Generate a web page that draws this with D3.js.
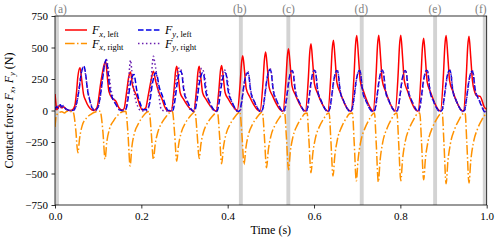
<!DOCTYPE html>
<html><head><meta charset="utf-8">
<script src="https://cdn.jsdelivr.net/npm/d3@7"></script>
<style>body{margin:0;background:#fff}svg{display:block}</style>
</head><body>
<svg id="chart" width="498" height="241"></svg>
<script>
// ---------- data ----------
const xTicks = [0.0, 0.2, 0.4, 0.6, 0.8, 1.0];
const yTicks = [-750, -500, -250, 0, 250, 500, 750];
const bandStarts = [0.0, 0.426, 0.536, 0.706, 0.876, 0.991];
const bandWidth = 0.009;
const bandLabels = ["(a)", "(b)", "(c)", "(d)", "(e)", "(f)"];
const bandLabelPos = [0.0127, 0.428, 0.541, 0.7096, 0.880, 0.9864];

// Fx,left  [time (s), force (N)]
const fxLeft = [
[0,130],[0.002,60],[0.004,5],[0.008,25],[0.012,40],[0.016,20],[0.020,30],[0.026,10],[0.032,0],[0.040,5],
[0.046,40],[0.050,150],[0.053,270],[0.058,340],[0.062,240],[0.066,130],[0.071,80],[0.078,30],[0.085,5],[0.090,0],
[0.097,20],[0.106,220],[0.1135,360],[0.1175,388],[0.121,275],[0.125,150],[0.133,95],[0.141,75],[0.148,22],[0.155,3],
[0.160,15],[0.166,150],[0.171,270],[0.175,305],[0.179,210],[0.183,165],[0.191,100],[0.197,35],[0.202,5],
[0.210,20],[0.216,120],[0.222,230],[0.228,312],[0.233,235],[0.241,140],[0.248,90],[0.254,30],[0.260,0],
[0.269,-5],[0.276,176],[0.279,303],[0.282,352],[0.286,253],[0.290,141],[0.298,88],[0.307,39],[0.315,7],
[0.321,-5],[0.328,176],[0.331,303],[0.334,352],[0.338,253],[0.342,141],[0.350,88],[0.359,39],[0.367,7],
[0.373,-5],[0.380,179],[0.383,307],[0.386,357],[0.390,257],[0.394,143],[0.402,89],[0.411,39],[0.419,7],
[0.422,-5],[0.429,218],[0.432,374],[0.435,435],[0.439,313],[0.443,174],[0.451,109],[0.460,48],[0.468,9],
[0.475,-5],[0.482,233],[0.485,400],[0.488,465],[0.492,335],[0.496,186],[0.504,116],[0.513,51],[0.521,9],
[0.528,-5],[0.535,245],[0.538,421],[0.541,490],[0.545,353],[0.549,196],[0.557,123],[0.566,54],[0.574,10],
[0.580,-5],[0.587,265],[0.590,455],[0.593,529],[0.597,381],[0.601,212],[0.609,132],[0.618,58],[0.626,11],
[0.632,-5],[0.639,279],[0.642,480],[0.645,558],[0.649,402],[0.653,223],[0.661,140],[0.670,61],[0.678,11],
[0.686,-5],[0.693,298],[0.696,512],[0.699,595],[0.703,428],[0.707,238],[0.715,149],[0.724,65],[0.732,12],
[0.737,-5],[0.744,299],[0.747,514],[0.750,598],[0.754,431],[0.758,239],[0.766,150],[0.775,66],[0.783,12],
[0.788,-5],[0.795,299],[0.798,514],[0.801,598],[0.805,431],[0.809,239],[0.817,150],[0.826,66],[0.834,12],
[0.841,-5],[0.848,287],[0.851,494],[0.854,574],[0.858,413],[0.862,230],[0.870,144],[0.879,63],[0.887,11],
[0.893,-5],[0.900,298],[0.903,512],[0.906,595],[0.910,428],[0.914,238],[0.922,149],[0.931,65],[0.939,12],
[0.946,-5],[0.953,295],[0.956,507],[0.959,590],[0.963,425],[0.967,236],[0.972,150],[0.976,118],[0.985,112],[0.990,70],[0.994,30],[1.0,10]
];

// Fx,right
const fxRight = [
[0,-130],[0.002,-60],[0.005,-30],[0.010,-15],[0.016,-10],[0.022,-20],[0.028,-5],[0.034,-10],[0.040,-5],
[0.043,-20],[0.048,-150],[0.053,-336],[0.057,-220],[0.063,-120],[0.073,-60],[0.083,-30],[0.095,-10],[0.104,-5],
[0.106,-20],[0.111,-170],[0.116,-385],[0.120,-250],[0.126,-150],[0.136,-80],[0.146,-35],[0.156,-10],[0.164,-5],
[0.165,-20],[0.169,-180],[0.174,-440],[0.178,-290],[0.184,-180],[0.194,-100],[0.204,-45],[0.212,-15],[0.218,-8],
[0.219,-20],[0.223,-175],[0.228,-389],[0.232,-270],[0.238,-175],[0.248,-95],[0.258,-45],[0.266,-15],[0.272,-8],
[0.273,-20],[0.277,-180],[0.282,-402],[0.286,-281],[0.292,-181],[0.302,-100],[0.312,-50],[0.320,-20],[0.324,-10],
[0.325,-20],[0.329,-171],[0.334,-381],[0.338,-267],[0.344,-171],[0.354,-95],[0.364,-48],[0.372,-19],[0.376,-10],
[0.377,-20],[0.381,-190],[0.386,-423],[0.390,-296],[0.396,-190],[0.406,-106],[0.416,-53],[0.424,-21],[0.428,-10],
[0.429,-20],[0.433,-193],[0.438,-429],[0.442,-300],[0.448,-193],[0.458,-107],[0.468,-54],[0.476,-21],[0.480,-10],
[0.481,-20],[0.485,-205],[0.490,-455],[0.494,-318],[0.500,-205],[0.510,-114],[0.520,-57],[0.528,-23],
[0.532,-20],[0.536,-212],[0.541,-470],[0.545,-329],[0.551,-212],[0.561,-118],[0.571,-59],[0.579,-24],
[0.584,-20],[0.588,-223],[0.593,-495],[0.597,-347],[0.603,-223],[0.613,-124],[0.623,-62],[0.631,-25],
[0.635,-20],[0.639,-234],[0.644,-520],[0.648,-364],[0.654,-234],[0.664,-130],[0.674,-65],[0.682,-26],
[0.689,-20],[0.693,-251],[0.698,-558],[0.702,-391],[0.708,-251],[0.718,-140],[0.728,-70],[0.736,-28],
[0.740,-20],[0.744,-255],[0.749,-567],[0.753,-397],[0.759,-255],[0.769,-142],[0.779,-71],[0.787,-28],
[0.792,-20],[0.796,-251],[0.801,-558],[0.805,-391],[0.811,-251],[0.821,-140],[0.831,-70],[0.839,-28],
[0.845,-20],[0.849,-248],[0.854,-550],[0.858,-385],[0.864,-248],[0.874,-138],[0.884,-69],[0.892,-28],
[0.897,-20],[0.901,-262],[0.906,-582],[0.910,-407],[0.916,-262],[0.926,-146],[0.936,-73],[0.944,-29],
[0.950,-20],[0.954,-259],[0.959,-575],[0.963,-403],[0.969,-259],[0.979,-144],[0.989,-72],[0.995,-40],[1.0,-20]
];

// Fy,left
const fyLeft = [
[0,10],[0.004,30],[0.008,20],[0.012,45],[0.016,30],[0.020,40],[0.024,15],[0.030,5],[0.038,0],[0.044,5],
[0.050,60],[0.056,170],[0.061,300],[0.067,350],[0.071,290],[0.075,170],[0.081,75],[0.086,20],[0.092,0],
[0.100,30],[0.105,120],[0.110,246],[0.115,365],[0.119,405],[0.123,300],[0.127,170],[0.133,100],[0.141,48],[0.148,8],[0.155,0],
[0.164,10],[0.170,110],[0.175,220],[0.179,270],[0.183,286],[0.186,240],[0.189,167],[0.197,60],[0.205,5],
[0.212,10],[0.218,40],[0.226,220],[0.233,299],[0.237,270],[0.241,193],[0.249,114],[0.256,40],[0.262,0],
[0.273,0],[0.279,112],[0.283,218],[0.288,296],[0.291,312],[0.294,290],[0.297,193],[0.300,128],[0.305,87],[0.310,47],[0.316,9],[0.321,-8],
[0.324,0],[0.330,108],[0.334,209],[0.339,284],[0.342,299],[0.345,278],[0.348,185],[0.351,123],[0.356,84],[0.361,45],[0.367,9],[0.372,-8],
[0.376,0],[0.382,108],[0.386,209],[0.391,284],[0.394,299],[0.397,278],[0.400,185],[0.403,123],[0.408,84],[0.413,45],[0.419,9],[0.424,-8],
[0.428,0],[0.434,108],[0.438,209],[0.443,284],[0.446,299],[0.449,278],[0.452,185],[0.455,123],[0.460,84],[0.465,45],[0.471,9],[0.476,-8],
[0.480,0],[0.486,117],[0.490,228],[0.495,309],[0.498,325],[0.501,302],[0.504,202],[0.507,133],[0.512,91],[0.517,49],[0.523,10],[0.528,-8],
[0.531,0],[0.537,114],[0.541,223],[0.546,302],[0.549,318],[0.552,296],[0.555,197],[0.558,130],[0.563,89],[0.568,48],[0.574,10],[0.579,-8],
[0.583,0],[0.589,115],[0.593,224],[0.598,304],[0.601,320],[0.604,298],[0.607,198],[0.610,131],[0.615,90],[0.620,48],[0.626,10],[0.631,-8],
[0.635,0],[0.641,114],[0.645,223],[0.650,302],[0.653,318],[0.656,296],[0.659,197],[0.662,130],[0.667,89],[0.672,48],[0.678,10],[0.683,-8],
[0.687,0],[0.693,114],[0.697,223],[0.702,302],[0.705,318],[0.708,296],[0.711,197],[0.714,130],[0.719,89],[0.724,48],[0.730,10],[0.735,-8],
[0.740,0],[0.746,115],[0.750,224],[0.755,304],[0.758,320],[0.761,298],[0.764,198],[0.767,131],[0.772,90],[0.777,48],[0.783,10],[0.788,-8],
[0.793,0],[0.799,114],[0.803,223],[0.808,302],[0.811,318],[0.814,296],[0.817,197],[0.820,130],[0.825,89],[0.830,48],[0.836,10],[0.841,-8],
[0.843,0],[0.849,115],[0.853,224],[0.858,304],[0.861,320],[0.864,298],[0.867,198],[0.870,131],[0.875,90],[0.880,48],[0.886,10],[0.891,-8],
[0.896,0],[0.902,115],[0.906,224],[0.911,304],[0.914,320],[0.917,298],[0.920,198],[0.923,131],[0.928,90],[0.933,48],[0.939,10],[0.944,-8],
[0.948,0],[0.954,112],[0.958,218],[0.963,296],[0.966,312],[0.969,290],[0.972,193],[0.975,140],[0.980,100],[0.985,60],[0.990,20],[0.995,-10],[1.0,-8]
];

// Fy,right
const fyRight = [
[0,5],[0.004,25],[0.008,35],[0.012,20],[0.016,40],[0.020,25],[0.026,10],[0.034,0],[0.044,5],
[0.050,50],[0.055,160],[0.060,290],[0.066,345],[0.070,300],[0.075,180],[0.081,80],[0.087,20],[0.093,0],
[0.100,25],[0.105,110],[0.110,240],[0.115,360],[0.119,400],[0.124,320],[0.129,180],[0.135,100],[0.142,45],[0.149,5],[0.156,0],
[0.162,0],[0.166,40],[0.170,200],[0.173,350],[0.175,400],[0.178,310],[0.182,180],[0.187,80],[0.192,30],[0.198,0],[0.210,-5],
[0.215,5],[0.219,80],[0.223,246],[0.226,390],[0.228,431],[0.231,380],[0.235,299],[0.241,114],[0.246,10],[0.255,-5],
[0.270,0],[0.276,120],[0.281,250],[0.285,320],[0.288,339],[0.291,330],[0.294,299],[0.299,167],[0.305,74],[0.313,8],[0.320,-5],
[0.322,0],[0.328,120],[0.333,250],[0.337,320],[0.340,335],[0.343,320],[0.346,285],[0.351,160],[0.357,70],[0.365,8],[0.372,-5],
[0.374,0],[0.380,115],[0.385,240],[0.389,310],[0.392,325],[0.395,310],[0.398,275],[0.403,155],[0.409,70],[0.417,8],[0.424,-5],
[0.429,0],[0.435,124],[0.440,248],[0.444,301],[0.447,310],[0.450,264],[0.453,171],[0.457,109],[0.463,62],[0.470,16],[0.475,-8],
[0.481,0],[0.487,132],[0.492,264],[0.496,320],[0.499,330],[0.502,281],[0.505,182],[0.509,116],[0.515,66],[0.522,17],[0.527,-8],
[0.532,0],[0.538,128],[0.543,256],[0.547,310],[0.550,320],[0.553,272],[0.556,176],[0.560,112],[0.566,64],[0.573,16],[0.578,-8],
[0.584,0],[0.590,129],[0.595,258],[0.599,312],[0.602,322],[0.605,274],[0.608,177],[0.612,113],[0.618,64],[0.625,16],[0.630,-8],
[0.636,0],[0.642,128],[0.647,256],[0.651,310],[0.654,320],[0.657,272],[0.660,176],[0.664,112],[0.670,64],[0.677,16],[0.682,-8],
[0.688,0],[0.694,128],[0.699,256],[0.703,310],[0.706,320],[0.709,272],[0.712,176],[0.716,112],[0.722,64],[0.729,16],[0.734,-8],
[0.741,0],[0.747,129],[0.752,258],[0.756,312],[0.759,322],[0.762,274],[0.765,177],[0.769,113],[0.775,64],[0.782,16],[0.787,-8],
[0.794,0],[0.800,128],[0.805,256],[0.809,310],[0.812,320],[0.815,272],[0.818,176],[0.822,112],[0.828,64],[0.835,16],[0.840,-8],
[0.844,0],[0.850,129],[0.855,258],[0.859,312],[0.862,322],[0.865,274],[0.868,177],[0.872,113],[0.878,64],[0.885,16],[0.890,-8],
[0.897,0],[0.903,129],[0.908,258],[0.912,312],[0.915,322],[0.918,274],[0.921,177],[0.925,113],[0.931,64],[0.938,16],[0.943,-8],
[0.949,0],[0.955,126],[0.960,252],[0.964,306],[0.967,315],[0.970,268],[0.973,173],[0.977,120],[0.983,80],[0.990,30],[0.995,-8],[1.0,-5]
];

const seriesNames = ["Fx,left", "Fx,right", "Fy,left", "Fy,right"];

// ---------- drawing ----------
const W = 498, H = 241;
const m = {left: 55, right: 11.3, top: 16, bottom: 36};
const svg = d3.select("#chart");
const font = "'Liberation Serif','Times New Roman','DejaVu Serif',serif";

const x = d3.scaleLinear().domain([0, 1]).range([m.left, W - m.right]);
const y = d3.scaleLinear().domain([-750, 750]).range([H - m.bottom, m.top]);

svg.append("defs").append("clipPath").attr("id", "clip")
  .append("rect").attr("x", x(0)).attr("y", y(750))
  .attr("width", x(1) - x(0)).attr("height", y(-750) - y(750));

// bands
svg.append("g").selectAll("rect").data(bandStarts).join("rect")
  .attr("x", d => x(d)).attr("y", y(750))
  .attr("width", d => x(Math.min(1, d + bandWidth)) - x(d))
  .attr("height", y(-750) - y(750))
  .attr("fill", "#d3d3d3");

// band labels
svg.append("g").selectAll("text").data(bandLabels).join("text")
  .attr("x", (d, i) => x(bandLabelPos[i])).attr("y", 13)
  .attr("text-anchor", "middle")
  .attr("font-family", font).attr("font-size", 11.5)
  .attr("fill", "#808080").text(d => d);

const line = d3.line().x(d => x(d[0])).y(d => y(d[1])).curve(d3.curveMonotoneX);

const styles = [
  {data: fxLeft,  color: "#ff0000", dash: null},
  {data: fxRight, color: "#ff9200", dash: "9.6,2.4,1.5,2.4"},
  {data: fyLeft,  color: "#0000e6", dash: "5.55,2.4"},
  {data: fyRight, color: "#6a1fb0", dash: "1.5,2.475"}
];

const gl = svg.append("g").attr("clip-path", "url(#clip)");
styles.forEach(s => {
  gl.append("path").datum(s.data).attr("d", line)
    .attr("fill", "none").attr("stroke", s.color)
    .attr("stroke-width", 1.5)
    .attr("stroke-dasharray", s.dash);
});

// axes
const fmtY = d => (d < 0 ? "\u2212" + Math.abs(d) : "" + d);
const xAxis = d3.axisBottom(x).tickValues(xTicks).tickFormat(d3.format(".1f")).tickSize(3.5).tickPadding(3.5);
const yAxis = d3.axisLeft(y).tickValues(yTicks).tickFormat(fmtY).tickSize(3.5).tickPadding(3.5);

const gx = svg.append("g").attr("transform", `translate(0,${y(-750)})`).call(xAxis);
const gy = svg.append("g").attr("transform", `translate(${x(0)},0)`).call(yAxis);
[gx, gy].forEach(g => {
  g.select(".domain").remove();
  g.selectAll("line").attr("stroke", "#000").attr("stroke-width", 0.8);
  g.selectAll("text").attr("font-family", font).attr("font-size", 11).attr("fill", "#000");
});

// frame
svg.append("rect").attr("x", x(0)).attr("y", y(750))
  .attr("width", x(1) - x(0)).attr("height", y(-750) - y(750))
  .attr("fill", "none").attr("stroke", "#000").attr("stroke-width", 0.8);

// x label
svg.append("text").attr("x", (x(0) + x(1)) / 2).attr("y", 233.5)
  .attr("text-anchor", "middle").attr("font-family", font).attr("font-size", 12)
  .text("Time (s)");

// y label
const yl = svg.append("text")
  .attr("transform", `translate(12.5,${(y(750) + y(-750)) / 2}) rotate(-90)`)
  .attr("text-anchor", "middle").attr("font-family", font).attr("font-size", 12);
yl.append("tspan").text("Contact force ");
yl.append("tspan").attr("font-style", "italic").text("F");
yl.append("tspan").attr("font-style", "italic").attr("font-size", 8.5).attr("dy", 2.5).text("x");
yl.append("tspan").attr("dy", -2.5).text(", ");
yl.append("tspan").attr("font-style", "italic").text("F");
yl.append("tspan").attr("font-style", "italic").attr("font-size", 8.5).attr("dy", 2.5).text("y");
yl.append("tspan").attr("dy", -2.5).text(" (N)");

// legend
const legendItems = [
  {i: 0, col: 0, row: 0, sub: "x", side: "left"},
  {i: 1, col: 0, row: 1, sub: "x", side: "right"},
  {i: 2, col: 1, row: 0, sub: "y", side: "left"},
  {i: 3, col: 1, row: 1, sub: "y", side: "right"}
];
const lg = svg.append("g");
legendItems.forEach(it => {
  const s = styles[it.i];
  const lx = 65 + it.col * 73, ly = 30 + it.row * 13.5;
  lg.append("line").attr("x1", lx).attr("x2", lx + 22).attr("y1", ly).attr("y2", ly)
    .attr("stroke", s.color).attr("stroke-width", 1.5).attr("stroke-dasharray", s.dash);
  const t = lg.append("text").attr("x", lx + 27).attr("y", ly + 4)
    .attr("font-family", font).attr("font-size", 12);
  t.append("tspan").attr("font-style", "italic").text("F");
  t.append("tspan").attr("font-size", 8.5).attr("dy", 2.5).attr("font-style", "italic").text(it.sub);
  t.append("tspan").attr("font-size", 8.5).text(", " + it.side);
});
</script>
</body></html>
